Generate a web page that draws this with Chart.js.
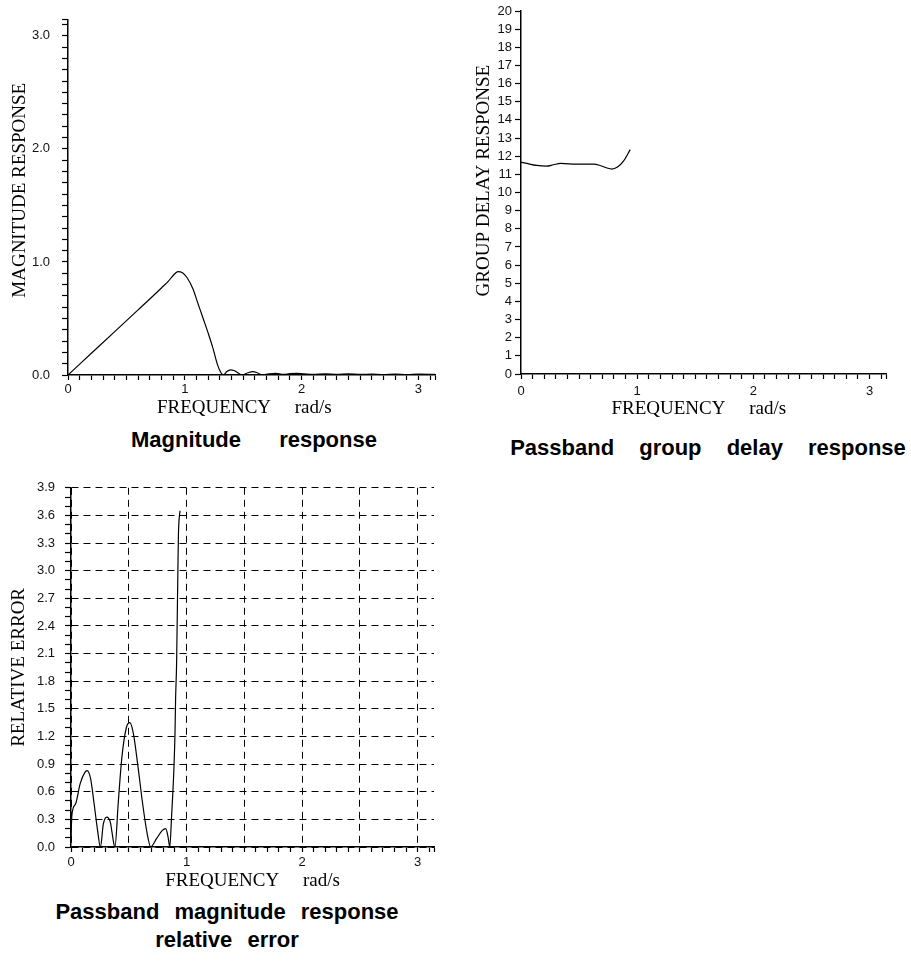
<!DOCTYPE html>
<html>
<head>
<meta charset="utf-8">
<script src="https://cdn.jsdelivr.net/npm/chart.js@4.4.0/dist/chart.umd.min.js"></script>
<style>
body { margin: 0; background: #fff; }
#page { position: relative; width: 911px; height: 964px; }
canvas { position: absolute; }
.caption {
    position: absolute; width: 400px; text-align: center; white-space: nowrap;
    font: bold 22px "Liberation Sans", Arial, sans-serif; line-height: 28px; color: #000;
}
</style>
</head>
<body>
<div id="page">
    <canvas id="magChart" width="450" height="420" style="left:0;top:0"></canvas>
    <canvas id="delayChart" width="456" height="420" style="left:455px;top:0"></canvas>
    <canvas id="errChart" width="450" height="425" style="left:0;top:470px"></canvas>
    <div class="caption" style="left:54px;top:426px;word-spacing:32px">Magnitude response</div>
    <div class="caption" style="left:508px;top:434px;word-spacing:19px">Passband group delay response</div>
    <div class="caption" style="left:27px;top:898px;word-spacing:9px">Passband magnitude response<br>relative error</div>
</div>
<script>
// Magnitude response (rad/s -> |H|)
var magFreq   = [0, 0.2, 0.4, 0.6, 0.8, 0.86, 0.9, 0.94, 0.98, 1.02, 1.07, 1.11, 1.157, 1.2, 1.24, 1.28, 1.31, 1.33,
                 1.36, 1.39, 1.42, 1.46, 1.49, 1.54, 1.58, 1.62, 1.66, 1.72, 1.78, 1.84, 1.9, 1.96, 2.02, 2.1,
                 2.2, 2.3, 2.4, 2.5, 2.6, 2.7, 2.8, 2.9, 3.0, 3.14];
var magValues = [0, 0.192, 0.384, 0.576, 0.77, 0.83, 0.88, 0.915, 0.905, 0.86, 0.76, 0.64, 0.5, 0.37, 0.24, 0.09, 0.02, 0,
                 0.03, 0.045, 0.04, 0.015, 0, 0.02, 0.03, 0.02, 0, 0.01, 0.015, 0.005, 0.012, 0.015, 0.01, 0.005,
                 0.01, 0.005, 0.01, 0.005, 0.008, 0.004, 0.008, 0.004, 0.007, 0.005];

// Passband group delay (rad/s -> samples)
var delayFreq   = [0, 0.05, 0.135, 0.22, 0.28, 0.34, 0.48, 0.625, 0.68, 0.74, 0.78, 0.83, 0.885, 0.94];
var delayValues = [11.67, 11.6, 11.49, 11.45, 11.53, 11.6, 11.56, 11.56, 11.49, 11.35, 11.29, 11.4, 11.76, 12.36];

// Passband relative error
var errFreq   = [0, 0.008, 0.04, 0.08, 0.12, 0.14, 0.17, 0.2, 0.23, 0.255, 0.28, 0.31, 0.34, 0.37, 0.38,
                 0.41, 0.44, 0.48, 0.51, 0.54, 0.58, 0.62, 0.66, 0.69, 0.74, 0.79, 0.82, 0.84, 0.855,
                 0.87, 0.89, 0.9, 0.905, 0.914, 0.925, 0.93, 0.943];
var errValues = [0.11, 0.35, 0.47, 0.69, 0.81, 0.83, 0.74, 0.47, 0.18, 0, 0.25, 0.325, 0.27, 0.04, 0,
                 0.5, 0.97, 1.3, 1.35, 1.23, 0.87, 0.47, 0.14, 0, 0.09, 0.18, 0.2, 0.11, 0,
                 0.32, 0.83, 1.23, 1.6, 2.0, 3.0, 3.4, 3.65];

// Tick labels
var freqLabels  = [0, 1, 2, 3];
var magLabels   = [0, 1, 2, 3];
var delayLabels = [0, 1, 2, 3, 4, 5, 6, 7, 8, 9, 10, 11, 12, 13, 14, 15, 16, 17, 18, 19, 20];
var errLabels   = [0, 0.3, 0.6, 0.9, 1.2, 1.5, 1.8, 2.1, 2.4, 2.7, 3.0, 3.3, 3.6, 3.9];

var NB = '\u00a0';
var tickFont = {family: '"Liberation Sans", Arial, sans-serif', size: 13};
var titleFont = {family: '"Liberation Serif", "Times New Roman", serif', size: 19};

var near = function(a, b) { return Math.abs(a - b) < 1e-6; };
var hasLabel = function(list, v) { return list.some(function(l) { return near(l, v); }); };
var isMultiple = function(v, step) { return near(v / step, Math.round(v / step)); };
var spaces = function(n) { return new Array(n + 1).join(NB); };

// every minor tick from 0 to max, plus the end of the axis
var minorTicks = function(max, step) {
    var out = [];
    for (var i = 0; i * step <= max + 1e-9; i++) out.push({value: +(i * step).toFixed(4)});
    if (out[out.length - 1].value < max - 1e-6) out.push({value: max});
    return out;
};

var points = function(xs, ys) {
    return xs.map(function(x, i) { return {x: x, y: ys[i]}; });
};

// Build one axis
var makeAxis = function(o) {
    return {
        type: 'linear',
        min: 0,
        max: o.max,
        border: {display: true, color: '#000', width: 1.5, dash: o.dash || []},
        grid: {
            drawOnChartArea: !!o.gridStep,
            color: function(ctx) {
                if (!o.gridStep || !ctx.tick) return 'rgba(0,0,0,0)';
                return isMultiple(ctx.tick.value, o.gridStep) ? '#000' : 'rgba(0,0,0,0)';
            },
            lineWidth: 1,
            tickColor: '#000',
            tickLength: o.tickLength,
            tickWidth: 1.2
        },
        ticks: {
            autoSkip: false,
            maxRotation: 0,
            minRotation: 0,
            padding: o.padding,
            color: '#111',
            font: tickFont,
            callback: function(value) {
                return hasLabel(o.labels, value) ? o.format(value) : '';
            }
        },
        title: {
            display: true,
            text: o.title,
            color: '#000',
            font: titleFont,
            padding: o.titlePadding
        },
        afterBuildTicks: function(scale) { scale.ticks = minorTicks(o.max, o.step); },
        afterFit: function(scale) {
            if (o.width) scale.width = o.width;
            if (o.height) scale.height = o.height;
        }
    };
};

var freqTitle = function(trail) { return 'FREQUENCY' + spaces(5) + 'rad/s' + spaces(trail); };
var intFormat = function(v) { return String(Math.round(v)); };
var oneDecimal = function(v) { return v.toFixed(1); };

var makeChart = function(id, data, padding, xAxis, yAxis) {
    return new Chart(document.getElementById(id), {
        type: 'line',
        data: {
            datasets: [{
                data: data,
                borderColor: '#000',
                borderWidth: 1.2,
                pointRadius: 0,
                fill: false,
                cubicInterpolationMode: 'monotone'
            }]
        },
        options: {
            responsive: false,
            animation: false,
            layout: {padding: padding},
            plugins: {legend: {display: false}, tooltip: {enabled: false}},
            scales: {x: xAxis, y: yAxis}
        }
    });
};

var magChart = makeChart('magChart', points(magFreq, magValues),
    {top: 10, left: 0, right: 15, bottom: 1},
    makeAxis({max: Math.PI, step: 0.1, labels: freqLabels, format: intFormat, tickLength: 5, padding: 2,
              title: freqTitle(3), titlePadding: {top: 0, bottom: 0}, height: 44}),
    makeAxis({max: Math.PI, step: 0.1, labels: magLabels, format: oneDecimal, tickLength: 6, padding: 12,
              title: spaces(3) + 'MAGNITUDE RESPONSE', titlePadding: {top: 9, bottom: 0}, width: 68}));

var delayChart = makeChart('delayChart', points(delayFreq, delayValues),
    {top: 11, left: 0, right: 25, bottom: 0},
    makeAxis({max: Math.PI, step: 0.1, labels: freqLabels, format: intFormat, tickLength: 5, padding: 5,
              title: freqTitle(2), titlePadding: {top: 0, bottom: 0}, height: 46}),
    makeAxis({max: 20, step: 1, labels: delayLabels, format: intFormat, tickLength: 6, padding: 3,
              title: spaces(5) + 'GROUP DELAY RESPONSE', titlePadding: {top: 18, bottom: 0}, width: 66}));

var errChart = makeChart('errChart', points(errFreq, errValues),
    {top: 17, left: 0, right: 16, bottom: 3},
    makeAxis({max: Math.PI, step: 0.1, labels: freqLabels, format: intFormat, tickLength: 5, padding: 3,
              gridStep: 0.5, dash: [7, 5],
              title: freqTitle(0), titlePadding: {top: 0, bottom: 0}, height: 45}),
    makeAxis({max: 3.9, step: 0.1, labels: errLabels, format: oneDecimal, tickLength: 6, padding: 10,
              gridStep: 0.3, dash: [7, 5],
              title: 'RELATIVE ERROR', titlePadding: {top: 8, bottom: 0}, width: 71}));
</script>
</body>
</html>
